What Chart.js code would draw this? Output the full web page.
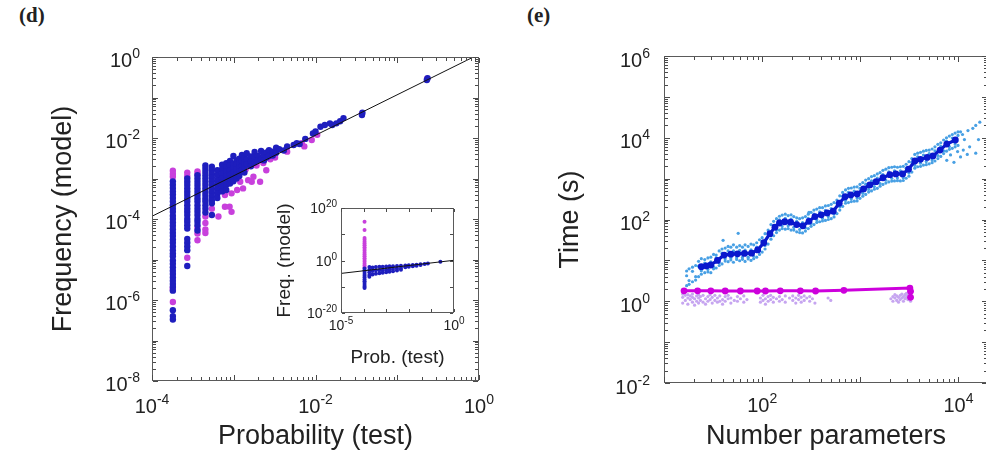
<!DOCTYPE html>
<html><head><meta charset="utf-8">
<script src="https://cdn.jsdelivr.net/npm/chart.js@4.4.1/dist/chart.umd.min.js"></script>
<style>
html,body{margin:0;padding:0;background:#fff;overflow:hidden;width:986px;height:459px;position:relative;}
.wrap{position:absolute;}
.panel{position:absolute;font-family:"Liberation Serif","Times New Roman",serif;font-weight:bold;font-size:21px;line-height:1;color:#222;}
.ov{position:absolute;pointer-events:none;z-index:5;}
</style></head><body>
<div class="panel" style="left:19px;top:5px">(d)</div>
<div class="panel" style="left:527px;top:5px">(e)</div>
<div class="wrap" id="wd" style="left:0;top:0;width:520px;height:459px"><canvas id="cd"></canvas></div>
<div class="wrap" id="we" style="left:490px;top:0;width:560px;height:459px"><canvas id="ce"></canvas></div>
<div class="wrap" id="wi" style="left:262px;top:195px;width:230px;height:180px"><canvas id="ci"></canvas></div>
<script>
const FONT = '"Liberation Sans", Arial, Helvetica, sans-serif';
const TXT = '#222';
const BOX_C = '#5a5a5a';
const TICK_C = '#4a4a4a';

// ---------------- Panel (d): main scatter ----------------
const dXTicks = [1e-4, 1e-2, 1];
const dYTicks = [1e-8, 1e-6, 1e-4, 1e-2, 1];
const dFit = [[1e-4, 1.17e-4], [1, 1.17]];
const dColX = [1.8e-4, 2.7e-4, 3.6e-4, 4.5e-4, 5.4e-4];
const dColBlueY = [
  [8.5e-4,7e-4,5.8e-4,4.8e-4,4e-4,3.3e-4,2.7e-4,2.2e-4,1.8e-4,1.5e-4,1.2e-4,1e-4,8.2e-5,6.8e-5,5.6e-5,4.6e-5,3.8e-5,3.1e-5,2.6e-5,2.1e-5,1.7e-5,1.4e-5,1.2e-5,9.5e-6,7.8e-6,6.4e-6,5.3e-6,4.4e-6,3.6e-6,3e-6,2.5e-6,2.1e-6,1.7e-6,5.6e-7,4e-7,3.3e-7],
  [1e-3,8.3e-4,6.9e-4,5.7e-4,4.7e-4,3.9e-4,3.2e-4,2.7e-4,2.2e-4,1.8e-4,1.5e-4,1.25e-4,1e-4,8.5e-5,7e-5,5.8e-5,3.2e-5,2.6e-5,2.1e-5,1.7e-5,6.9e-6],
  [1.2e-3,1e-3,8.3e-4,6.9e-4,5.7e-4,4.7e-4,3.9e-4,3.2e-4,2.7e-4,2.2e-4,1.8e-4,1.5e-4,1.25e-4,1e-4,8.5e-5,7e-5,5.2e-5],
  [2.1e-3,1.75e-3,1.45e-3,1.2e-3,1e-3,8.3e-4,6.9e-4,5.7e-4,4.7e-4,3.9e-4,3.2e-4,2.7e-4,2.2e-4,1.8e-4,1.45e-4],
  [1.95e-3,1.6e-3,1.3e-3,1.05e-3,8.5e-4,7e-4,5.6e-4,4.5e-4,3.6e-4,2.9e-4,2.45e-4,1.26e-4]
];
const dColPurpleY = [
  [1.55e-3,1.3e-3,1.1e-3,2e-6,1.8e-6,8.9e-7],
  [1.4e-3,1.15e-3,1.1e-5],
  [1.5e-3,1.3e-3,6e-5,4.4e-5,3e-5],
  [1.15e-4,8e-5,5.5e-5,4.5e-5],
  [1.8e-4]
];
const dCloudBlue = [
  [6.3e-4,1.6e-3],[6.3e-4,1.2e-3],[6.3e-4,9e-4],[6.3e-4,7e-4],[6.3e-4,5.5e-4],[6.3e-4,4.2e-4],[6.3e-4,3.3e-4],
  [7.2e-4,2.2e-3],[7.2e-4,1.7e-3],[7.2e-4,1.3e-3],[7.2e-4,1e-3],[7.2e-4,8e-4],[7.2e-4,6.2e-4],[7.2e-4,4.8e-4],
  [8.1e-4,2.4e-3],[8.1e-4,1.9e-3],[8.1e-4,1.5e-3],[8.1e-4,1.15e-3],[8.1e-4,9e-4],[8.1e-4,7e-4],[8.1e-4,5.2e-4],
  [9e-4,2.7e-3],[9e-4,2.1e-3],[9e-4,1.6e-3],[9e-4,1.25e-3],[9e-4,1e-3],[9e-4,7.5e-4],
  [9.9e-4,3.6e-3],[9.9e-4,2.3e-3],[9.9e-4,1.8e-3],[9.9e-4,1.4e-3],[9.9e-4,1.1e-3],[9.9e-4,8.5e-4],
  [1.08e-3,2.8e-3],[1.08e-3,2.2e-3],[1.08e-3,1.7e-3],[1.08e-3,1.3e-3],[1.08e-3,1e-3],
  [1.17e-3,3.1e-3],[1.17e-3,2.4e-3],[1.17e-3,1.9e-3],[1.17e-3,1.5e-3],[1.17e-3,1.15e-3],
  [1.26e-3,3.8e-3],[1.26e-3,2.7e-3],[1.26e-3,2e-3],[1.26e-3,1.6e-3],
  [1.35e-3,3.2e-3],[1.35e-3,2.5e-3],[1.35e-3,1.9e-3],[1.35e-3,1.4e-3],
  [1.44e-3,4.2e-3],[1.44e-3,3e-3],[1.44e-3,2.2e-3],
  [1.62e-3,3.5e-3],[1.62e-3,2.6e-3],[1.62e-3,2e-3],
  [1.8e-3,4.5e-3],[1.8e-3,3.4e-3],[1.8e-3,2.5e-3],
  [1.98e-3,3.6e-3],[1.98e-3,2.8e-3],[2.16e-3,4.8e-3],[2.16e-3,3e-3],
  [2.34e-3,3.9e-3],[2.34e-3,2.8e-3],[2.52e-3,4.4e-3],[2.52e-3,3.3e-3],
  [2.7e-3,5e-3],[2.7e-3,3.6e-3],[3e-3,4.6e-3],[3e-3,3.7e-3],
  [3.3e-3,5.8e-3],[3.3e-3,4.3e-3],[3.6e-3,5.3e-3],[4.1e-3,4.9e-3],[4.5e-3,6.2e-3],
  [5.4e-3,6.7e-3],[5.9e-3,7.4e-3],[6.4e-3,7.1e-3],[7.5e-3,9.5e-3],[9.3e-3,1.3e-2],
  [1.0e-2,1.45e-2],[1.15e-2,1.9e-2],[1.3e-2,2.1e-2],[1.5e-2,2.3e-2],[1.6e-2,2.1e-2],
  [1.8e-2,2.3e-2],[2.0e-2,2.6e-2],[2.2e-2,3.1e-2],[3.7e-2,3.7e-2],[3.75e-2,4.2e-2],
  [0.23,0.27],[0.235,0.3]
];
const dCloudPurple = [
  [6.5e-4,1.15e-4],[7.8e-4,2e-4],[8.9e-4,2e-4],[9.4e-4,1.5e-4],[2.1e-3,8.3e-4],[6.8e-4,5.2e-4],
  [7.8e-4,3.9e-4],[9.4e-4,4.3e-4],[1.1e-3,5.2e-4],[1.3e-3,5.7e-4],[1.5e-3,9.1e-4],[1.2e-3,8.3e-4],
  [1.74e-3,1.1e-3],[2.5e-3,1.6e-3],[1.66e-3,8.3e-4],[4.5e-3,4.6e-3],[6.8e-3,7.4e-3],[7.3e-3,6.2e-3],
  [9e-3,8.9e-3],[1.05e-2,1.2e-2],[0.232,0.29],[3.7e-2,3.9e-2],[2.8e-3,3e-3],[3.2e-3,3.3e-3],
  [1.0e-3,1.2e-3],[1.4e-3,1.7e-3],[1.9e-3,2.1e-3],[2.3e-3,2.4e-3]
];

// ---------------- Inset ----------------
const iXTicks = [1e-5, 1];
const iYTicks = [1e-20, 1, 1e20];
const iFit = [[1e-5, 1.2e-5], [1, 1.2]];
const iColX = 1.1e-4;
const iColPurpleY = [6e14,4e11,4e8,8e7,1.5e7,3e6,6e5,1.2e5,2.5e4,5e3,1e3,200,40,8,1.5,0.3,0.06,0.012,2.5e-3];
const iColBlueY = [1e-3,2e-4,4e-5,8e-6,1.6e-6,3e-7,6e-8,1.2e-8,2.5e-9,5e-10,1e-10,3e-11];
const iTrendBlue = [
  [1.8e-4,3e-3],[1.8e-4,3e-4],[1.8e-4,3e-5],[1.8e-4,3e-6],[1.8e-4,6e-7],
  [2.5e-4,2e-3],[2.5e-4,1e-4],[2.5e-4,5e-6],[3.5e-4,3e-3],[3.5e-4,2e-4],[3.5e-4,1e-5],
  [5e-4,4e-3],[5e-4,2e-4],[5e-4,1.5e-5],[7e-4,4e-3],[7e-4,2e-4],[7e-4,2e-5],
  [1e-3,5e-3],[1e-3,3e-4],[1e-3,3e-5],[1.4e-3,6e-3],[1.4e-3,5e-4],[1.4e-3,5e-5],
  [2e-3,7e-3],[2e-3,6e-4],[2e-3,8e-5],[3e-3,8e-3],[3e-3,1e-3],[3e-3,1.5e-4],
  [4.5e-3,1e-2],[4.5e-3,1.5e-3],[4.5e-3,3e-4],[7e-3,1.2e-2],[7e-3,2.5e-3],
  [1e-2,1.5e-2],[1e-2,4e-3],[1.5e-2,2e-2],[1.5e-2,6e-3],[2.2e-2,2.5e-2],[2.2e-2,1e-2],
  [3.3e-2,3.5e-2],[3.3e-2,1.8e-2],[5e-2,5e-2],[7e-2,7e-2],[0.25,0.3]
];

// ---------------- Panel (e) ----------------
const eXTicks = [1e2, 1e4];
const eYTicks = [1e-2, 1, 1e2, 1e4, 1e6];
const eDarkX = [24,27,30,35,41,48,56,66,78,90,104,120,135,150,170,195,225,260,300,345,400,460,530,610,700,800,930,1080,1250,1450,1700,2000,2300,2700,3100,3600,4100,4800,5500,6500,7600,9300];
const eDarkY = [7.0,7.3,7.7,10,13.5,14.2,14.5,14.8,15,18,27,45,65,82,88,86,75,70,90,118,130,145,160,250,360,400,420,560,700,840,1050,1250,1300,1300,1700,2700,2970,3300,3600,5000,7000,8800];
const eMagX = [16,22,30,42,60,89,108,153,245,350,680,3200,3250,3250];
const eMagY = [1.8,1.8,1.8,1.78,1.78,1.78,1.78,1.8,1.8,1.78,1.85,2.1,1.75,1.25];
// light-blue scatter, read per x: [x, above, below, near]
const eLightBlueRows = [
  [17,5.5,2.4,4.2],[18,6.2,2.6,3.2],[19.5,6.8,3.0,5.4],[21,7.5,3.3,4.0],[22.5,9.5,4.0,7.2],[24,11,4.6,5.6],
  [26,10.5,5.0,8.6],[28,11.5,5.2,6.0],[30,12,5.0,9.2],[32,14,6.2,7.0],[34,13.5,6.5,11.5],[36.5,17,7.5,8.8],
  [39,19,8.2,15],[42,20,9.6,11],[45,22,9.3,17],[48,21,10.2,11.5],[51,24,9.0,17],[55,21,10.5,11.6],
  [59,23,9.8,17.5],[63,21,10.6,11.8],[67,24,9.4,17.8],[72,22,10.8,12],[77,25,10,18],[82,24,11,12.8],
  [88,27,12,21],[94,32,14,17],[100,36,16,29],[107,45,19,23],[115,55,25,44],[123,75,33,40],[131,90,40,72],
  [140,105,48,56],[150,120,55,98],[160,128,60,69],[172,135,58,106],[184,125,60,70],[197,130,55,102],
  [210,118,55,64],[225,110,50,90],[241,105,48,57],[258,110,47,84],[276,118,52,62],[295,135,60,106],
  [315,150,68,80],[337,170,75,136],[360,180,85,98],[385,195,88,154],[412,195,92,106],[441,215,95,168],
  [472,220,100,118],[505,235,105,186],[540,260,115,136],[578,300,140,246],[618,380,170,204],[661,460,210,372],
  [707,530,250,290],[757,580,260,462],[810,590,275,322],[867,620,280,492],[927,630,285,336],[992,720,330,576],
  [1060,800,370,436],[1135,920,410,732],[1215,1000,470,544],[1300,1120,500,888],[1390,1180,550,640],
  [1490,1300,580,1030],[1590,1400,650,760],[1700,1600,720,1260],[1820,1700,780,912],[1950,1850,830,1460],
  [2090,1900,870,1016],[2230,1950,880,1550],[2390,1900,890,1040],[2560,1950,880,1560],[2740,2000,900,1056],
  [2930,2250,1020,1800],[3130,2600,1150,1376],[3350,3100,1450,2520],[3590,3900,1800,2120],[3840,4200,1950,3420],
  [4110,4400,2000,2376],[4400,4700,2150,3780],[4700,4900,2200,2620],[5030,5000,2300,4080],[5390,5300,2450,2850],
  [5760,6000,2700,4800],[6170,6900,3100,3680],[6600,7500,3500,6120],[7060,8800,4100,4800],[7550,10000,4700,8280],
  [8080,11000,5200,6080],[8650,12000,5500,9840],[9250,13000,6000,7040],[9900,14000,6500,11400]
];
const eLightBlueExtra = [
  [40,31],[57,46],[300,150],[11000,12000],[12500,15000],[14000,17000],[16500,24000],[15000,20000],
  [7600,2800],[8300,3800],[9000,2500],[9800,4600],[10500,3400],[11200,5000],[12300,3900],[13000,6000],
  [15000,4200],[16000,9000],[10500,14000],[11500,9000]
];
// light-purple scatter, read per x: [x, y1, y2, ...]
const eLightPurpleRows = [
  [15.5,1.25,0.9,1.5],[16.5,1.05,1.4],[17.5,0.85,1.2,1.45],[18.5,1.1,1.35],[19.5,0.95,1.25,1.5],[20.5,1.15,0.8],
  [21.5,1.35,1.0],[22.5,1.2,0.9,1.45],[23.5,1.05,1.3],[25,0.95,1.4],[26.5,1.15,0.85],[28,1.3,1.0],[29.5,1.45,1.1],
  [31,0.9,1.25],[33,1.05,1.4],[35,1.2,0.95],[37,1.35,1.0],[39.5,1.1,0.85],[42,1.3,1.0],[45,1.15,1.4],[48,0.9,1.2],
  [52,1.05],[56,1.3,1.0],[60,1.15],[65,1.35,0.95],[70,1.1],[96,1.2,0.95],[102,1.4,1.05],[108,1.15,0.85],
  [115,1.3,1.0],[122,1.1,1.4],[130,0.95,1.25],[140,1.15],[150,1.3,1.0],[160,1.1],[172,1.35,0.95],[190,1.2],
  [205,1.05,1.35],[220,0.9,1.2],[235,1.1,1.4],[250,1.25,0.95],[268,1.05,1.35],[285,1.2],[305,1.0,1.3],
  [325,1.15],[345,0.9],[470,1.2],[500,1.05],[2050,1.15],[2150,1.3,1.0],[2250,1.2,1.45],[2350,1.05,1.35],
  [2450,1.25,0.95],[2550,1.4,1.1],[2650,1.2,1.5],[2750,1.0,1.3],[2850,1.45,1.15],[2950,1.25,1.55],
  [3050,1.1,1.4],[3150,1.3,1.6],[3250,1.2,1.5,1.0]
];

// ---------------- helpers ----------------
const pts = arr => arr.map(p => ({x: p[0], y: p[1]}));
const colPts = (xs, ys) => xs.flatMap((x, i) => ys[i].map(y => ({x, y})));
const xyPts = (xs, ys) => xs.map((x, i) => ({x, y: ys[i]}));
const rowPts = rows => rows.flatMap(r => r.slice(1).map(y => ({x: r[0], y})));

function drawPow(ctx, v, ax, by, align, o) {
  const ex = String(Math.round(Math.log10(v)));
  ctx.font = o.base + 'px ' + FONT; const w1 = ctx.measureText('10').width;
  ctx.font = o.sup + 'px ' + FONT; const w2 = ctx.measureText(ex).width;
  const w = w1 + w2;
  const x0 = align === 'center' ? ax - w / 2 : ax - w;
  ctx.fillStyle = TXT; ctx.textAlign = 'left'; ctx.textBaseline = 'alphabetic';
  ctx.font = o.base + 'px ' + FONT; ctx.fillText('10', x0, by);
  ctx.font = o.sup + 'px ' + FONT; ctx.fillText(ex, x0 + w1, by - o.raise);
}

// log-tick positions along a scale (1..9 per decade, or decades only)
function tickMarks(s, step, minor, major, minorLen) {
  const out = [];
  const lo = Math.floor(Math.log10(s.min) + 1e-9), hi = Math.ceil(Math.log10(s.max) - 1e-9);
  for (let e = lo; e <= hi; e += step) {
    for (let k = 1; k <= (minor ? 9 : 1); k++) {
      const v = k * Math.pow(10, e);
      if (v < s.min * 0.999 || v > s.max * 1.001) continue;
      out.push([Math.round(s.getPixelForValue(v)), k === 1 ? major : minorLen]);
    }
  }
  return out;
}

const logLabels = {
  id: 'logLabels',
  afterDraw(chart, args, o) {
    const {ctx, chartArea: a} = chart;
    const x = chart.scales.x, y = chart.scales.y;
    ctx.save();
    const L = Math.round(a.left), R = Math.round(a.right) - 1;
    const T = Math.round(a.top), B = Math.round(a.bottom) - 1;
    ctx.fillStyle = BOX_C;
    ctx.fillRect(L, T, R - L + 1, 1); ctx.fillRect(L, B, R - L + 1, 1);
    ctx.fillRect(L, T, 1, B - T + 1); ctx.fillRect(R, T, 1, B - T + 1);
    ctx.fillStyle = TICK_C;
    tickMarks(x, o.xStep, o.xMinor, o.major, o.minor).forEach(([p, len]) => { ctx.fillRect(p, B - len, 1, len); ctx.fillRect(p, T + 1, 1, len); });
    tickMarks(y, o.yStep, o.yMinor, o.major, o.minor).forEach(([p, len]) => { ctx.fillRect(L + 1, p, len, 1); ctx.fillRect(R - len, p, len, 1); });
    o.xLabels.forEach(v => drawPow(ctx, v, x.getPixelForValue(v), a.bottom + o.xOff, 'center', o));
    o.yLabels.forEach(v => drawPow(ctx, v, a.left - o.yGap, y.getPixelForValue(v) + o.yOff, 'right', o));
    ctx.restore();
  }
};

// frame + inward ticks as an overlay layer, positioned from the chart's own scales
function frameOverlay(chart, wrapId, o) {
  const wrap = document.getElementById(wrapId);
  const a = chart.chartArea, x = chart.scales.x, y = chart.scales.y;
  const L = Math.round(a.left), R = Math.round(a.right) - 1;
  const T = Math.round(a.top), B = Math.round(a.bottom) - 1;
  const add = (l, t, w, h, c) => {
    const d = document.createElement('div');
    d.className = 'ov';
    d.style.left = l + 'px'; d.style.top = t + 'px';
    d.style.width = w + 'px'; d.style.height = h + 'px';
    d.style.background = c;
    wrap.appendChild(d);
  };
  add(L, T, R - L + 1, 1, BOX_C); add(L, B, R - L + 1, 1, BOX_C);
  add(L, T, 1, B - T + 1, BOX_C); add(R, T, 1, B - T + 1, BOX_C);
  tickMarks(x, o.xStep, o.xMinor, o.major, o.minor).forEach(([p, len]) => { add(p, B - len, 1, len, TICK_C); add(p, T + 1, 1, len, TICK_C); });
  tickMarks(y, o.yStep, o.yMinor, o.major, o.minor).forEach(([p, len]) => { add(L + 1, p, len, 1, TICK_C); add(R - len, p, len, 1, TICK_C); });
}

function axis(min, max, pos, title, size, pad, fit) {
  return {
    type: 'logarithmic', position: pos, min, max,
    grid: {display: false}, border: {display: false}, ticks: {display: false},
    title: {display: true, text: title, color: TXT, font: {family: FONT, size}, padding: pad},
    afterFit: fit
  };
}
function baseOpts(padding, xs, ys, box) {
  return {
    responsive: true, maintainAspectRatio: false, animation: false, devicePixelRatio: 1, events: [],
    layout: {padding},
    plugins: {legend: {display: false}, tooltip: {enabled: false}, logLabels: box},
    scales: {x: xs, y: ys}
  };
}

// ---- chart (d)
const D_BLUE = 'rgb(30,30,190)', D_PURPLE = 'rgb(200,64,220)';
const dBox = {major: 5, minor: 3, xStep: 1, yStep: 1, xMinor: true, yMinor: true,
  xLabels: dXTicks, yLabels: dYTicks, base: 20, sup: 14, raise: 9, xOff: 32, yGap: 12, yOff: 9.5};
const chartD = new Chart(document.getElementById('cd'), {
  type: 'scatter',
  data: {datasets: [
    {data: pts(dFit), showLine: true, borderColor: '#111', borderWidth: 1, pointRadius: 0},
    {data: colPts(dColX, dColBlueY).concat(pts(dCloudBlue)), backgroundColor: D_BLUE, pointRadius: 3.2, borderWidth: 0},
    {data: colPts(dColX, dColPurpleY).concat(pts(dCloudPurple)), backgroundColor: D_PURPLE, pointRadius: 3.2, borderWidth: 0}
  ]},
  options: baseOpts({left: 0, top: 57, right: 41, bottom: 0},
    axis(1e-4, 1, 'bottom', 'Probability (test)', 27, {top: 0, bottom: 6}, s => { s.height = 78; }),
    axis(1e-8, 1, 'left', 'Frequency (model)', 27, {top: 47, bottom: 0}, s => { s.width = 152; }),
    dBox),
  plugins: [logLabels]
});
frameOverlay(chartD, 'wd', dBox);

// ---- chart (e)
const E_DARK = 'rgb(10,24,205)', E_MAG = 'rgb(205,0,220)';
const eBox = {major: 5, minor: 3, xStep: 1, yStep: 1, xMinor: true, yMinor: true,
  xLabels: eXTicks, yLabels: eYTicks, base: 20, sup: 14, raise: 9, xOff: 29, yGap: 14, yOff: 10.5};
const chartE = new Chart(document.getElementById('ce'), {
  type: 'scatter',
  data: {datasets: [
    {data: xyPts(eDarkX, eDarkY), showLine: true, borderColor: E_DARK, backgroundColor: E_DARK, borderWidth: 3.2, pointRadius: 3.4, pointBorderWidth: 0, borderJoinStyle: 'round'},
    {data: xyPts(eMagX, eMagY), showLine: true, borderColor: E_MAG, backgroundColor: E_MAG, borderWidth: 3, pointRadius: 3.4, pointBorderWidth: 0},
    {data: rowPts(eLightBlueRows).concat(pts(eLightBlueExtra)), backgroundColor: 'rgb(72,160,228)', pointRadius: 1.6, borderWidth: 0},
    {data: rowPts(eLightPurpleRows), backgroundColor: 'rgb(198,165,240)', pointRadius: 1.6, borderWidth: 0}
  ]},
  options: baseOpts({left: 0, top: 56, right: 62, bottom: 0},
    axis(10, 2e4, 'bottom', 'Number parameters', 27, {top: 0, bottom: 6}, s => { s.height = 76; }),
    axis(1e-2, 1e6, 'left', 'Time (s)', 27, {top: 64, bottom: 0}, s => { s.width = 174; }),
    eBox),
  plugins: [logLabels]
});
frameOverlay(chartE, 'we', eBox);

// ---- inset
const iBox = {major: 3, minor: 2, xStep: 1, yStep: 10, xMinor: false, yMinor: false,
  xLabels: iXTicks, yLabels: iYTicks, base: 14, sup: 10, raise: 6, xOff: 17, yGap: 4, yOff: 5};
const chartI = new Chart(document.getElementById('ci'), {
  type: 'scatter',
  data: {datasets: [
    {data: pts(iFit), showLine: true, borderColor: '#111', borderWidth: 1, pointRadius: 0},
    {data: iColBlueY.map(y => ({x: iColX, y})).concat(pts(iTrendBlue)), backgroundColor: D_BLUE, pointRadius: 2, borderWidth: 0},
    {data: iColPurpleY.map(y => ({x: iColX, y})), backgroundColor: D_PURPLE, pointRadius: 2, borderWidth: 0}
  ]},
  options: baseOpts({left: 0, top: 13, right: 38, bottom: 0},
    axis(1e-5, 1, 'bottom', 'Prob. (test)', 19, {top: 0, bottom: 6}, s => { s.height = 62; }),
    axis(1e-20, 1e20, 'left', 'Freq. (model)', 19, {top: 11, bottom: 0}, s => { s.width = 79; }),
    iBox),
  plugins: [logLabels]
});
frameOverlay(chartI, 'wi', iBox);
</script>
</body></html>
